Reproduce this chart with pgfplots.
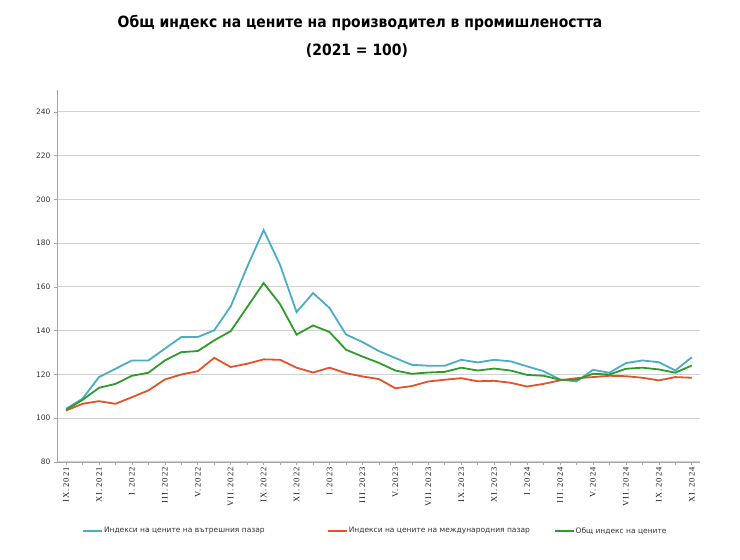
\documentclass[border=0pt]{standalone}
\usepackage{pgfplots}
\pgfplotsset{compat=1.18}
\usepackage{fontspec}
\setmainfont{DejaVu Sans}
\newfontfamily\titlefont{DejaVu Sans Condensed}
\newfontfamily\serifx{Liberation Serif}[LetterSpace=14]
\definecolor{cblue}{HTML}{4BACC6}
\definecolor{cred}{HTML}{E2532B}
\definecolor{cgreen}{HTML}{2E9B2E}
\pgfplotstableread{
i dom intl tot
0 104.3 103.5 103.8
1 108.9 106.6 108.4
2 118.8 107.8 113.9
3 122.6 106.6 115.7
4 126.4 109.6 119.4
5 126.4 112.7 120.8
6 131.8 117.7 126.4
7 137.1 120.0 130.2
8 137.1 121.5 130.7
9 140.2 127.6 135.6
10 151.1 123.4 139.8
11 169.2 124.9 150.8
12 186.0 126.9 161.8
13 170.0 126.7 152.1
14 148.5 123.1 138.2
15 157.2 120.9 142.4
16 150.4 123.1 139.4
17 138.3 120.6 131.3
18 134.8 119.1 128.2
19 130.7 117.9 125.3
20 127.5 113.7 121.8
21 124.4 114.7 120.3
22 124.0 116.8 120.9
23 124.0 117.6 121.2
24 126.7 118.3 123.1
25 125.5 116.9 121.8
26 126.7 117.1 122.7
27 126.0 116.2 121.8
28 123.7 114.5 119.8
29 121.5 115.7 119.4
30 117.7 117.3 117.6
31 116.8 118.3 117.6
32 122.1 118.8 120.3
33 120.8 119.4 120.0
34 125.2 119.2 122.6
35 126.4 118.5 123.1
36 125.6 117.3 122.3
37 121.8 118.8 120.8
38 127.9 118.5 124.1
}\datatable
\begin{document}
\begin{tikzpicture}[x=1pt,y=1pt]
\useasboundingbox (0,0) rectangle (740,560);
\node[font=\titlefont\bfseries\fontsize{15.5}{17}\selectfont, text=black] at (360,537) {Общ индекс на цените на производител в промишлеността};
\node[font=\titlefont\bfseries\fontsize{15.5}{17}\selectfont, text=black] at (357,509) {(2021 = 100)};
\begin{axis}[
  at={(57pt,98pt)}, anchor=south west,
  scale only axis, width=643pt, height=372pt,
  xmin=-0.55, xmax=38.5, ymin=80, ymax=250,
  axis x line=bottom, axis y line=left,
  axis line style={draw=gray!70, line width=0.8pt, -},
  ytick={80,100,...,240},
  ymajorgrids, grid style={draw=gray!35, line width=1pt},
  xtick={0,2,...,38},
  minor xtick={1,3,...,37},
  xticklabels={IX.2021, XI.2021, I.2022, III.2022, V.2022, VII.2022, IX.2022, XI.2022, I.2023, III.2023, V.2023, VII.2023, IX.2023, XI.2023, I.2024, III.2024, V.2024, VII.2024, IX.2024, XI.2024},
  tick align=outside, major tick length=3pt, minor tick length=3pt,
  tick style={draw=gray!70, line width=0.6pt},
  xtick pos=bottom, ytick pos=left,
  xticklabel style={rotate=90, anchor=east, font=\serifx\fontsize{8.5}{9}\selectfont, text=black!90, inner sep=2pt},
  yticklabel style={font=\fontsize{7.5}{8}\selectfont, text=black!80},
  /pgf/number format/assume math mode=true,
  legend columns=3,
  legend image code/.code={\draw[#1] (0pt,0pt) -- (19pt,0pt);},
  legend style={at={(axis description cs:0.0389,-0.1855)}, anchor=west, draw=none, fill=none,
    inner sep=0pt, font=\fontsize{7.5}{9}\selectfont, text=black!80,
    /tikz/every even column/.append style={column sep=0pt},
    nodes={inner sep=1pt}},
  legend cell align=left,
]
\addplot[cblue, line width=1.8pt] table[x=i, y=dom] {\datatable};
\addlegendentry{\makebox[222pt][l]{Индекси на цените на вътрешния пазар}}
\addplot[cred, line width=1.8pt] table[x=i, y=intl] {\datatable};
\addlegendentry{\makebox[204pt][l]{Индекси на цените на международния пазар}}
\addplot[cgreen, line width=1.8pt] table[x=i, y=tot] {\datatable};
\addlegendentry{Общ индекс на цените}
\end{axis}
\end{tikzpicture}
\end{document}
